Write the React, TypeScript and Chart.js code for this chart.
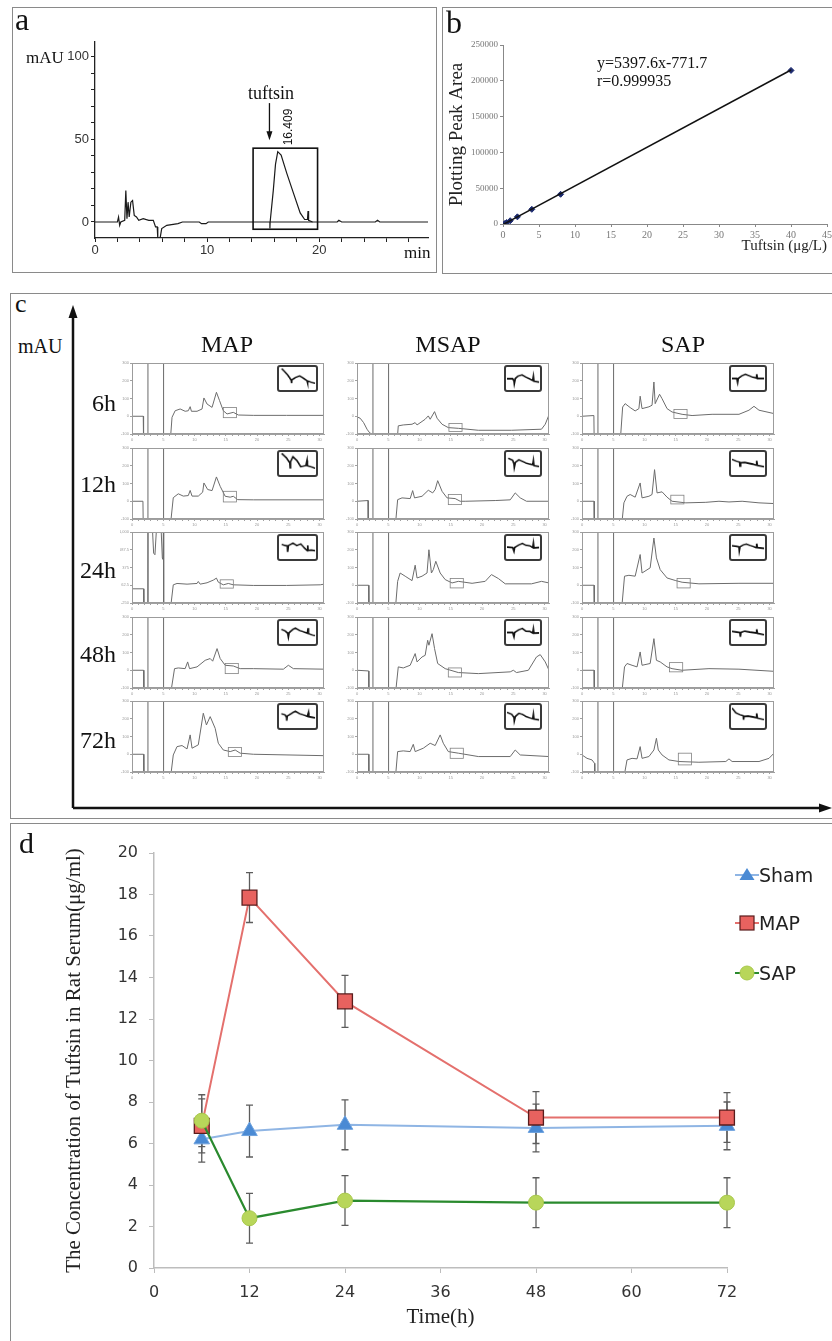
import React, { useEffect, useRef } from "react";
import { Chart, registerables } from "chart.js";

Chart.register(...registerables);

const SERIF = "'Liberation Serif', 'Times New Roman', serif";
const SANS = "'Liberation Sans', Arial, sans-serif";
const WIDE = "'DejaVu Sans', Verdana, sans-serif";

/* ---------------- panel a : standard chromatogram ---------------- */
const aTrace = [
  [0, 0], [2.0, 0], [2.1, 3], [2.2, -2], [2.3, 0], [2.65, 1], [2.75, 19], [2.85, 2], [2.95, 12], [3.05, 3],
  [3.2, 12], [3.35, 13], [3.5, 4], [3.7, 3], [3.9, 1], [4.3, 2], [4.8, 1], [5.2, 1], [5.4, -3], [5.55, -3],
  [5.6, -10], [5.8, -10], [5.95, -4], [6.4, -2], [7.4, -1], [7.8, 0], [9.3, 0], [9.5, -1], [9.9, -1],
  [10.1, 0], [15.6, 0], [15.6, -4], [15.62, 0], [15.9, 19], [16.1, 35], [16.3, 42.6], [16.6, 40.5],
  [17.1, 29.6], [17.7, 17.5], [18.3, 5.5], [18.7, 1.5], [18.95, 1.5], [19.0, 6.6], [19.05, 1], [19.4, 0],
  [21.6, 0], [21.75, 1], [22.0, 0], [25.0, 0], [25.2, 1], [25.4, 0], [29.7, 0],
];
const aPeakBaseline = [[15.6, 0], [19.4, 0]];
const aXTicks = [0, 2, 4, 6, 8, 10, 12, 14, 16, 18, 20, 22, 24, 26, 28];
const aYTicks = [0, 10, 20, 30, 40, 50, 60, 70, 80, 90, 100];
const aXRange = [0, 29.7];
const aYRange = [-9.7, 109];
const aWindowT = [14.1, 19.85];
const aWindowV = [-4.4, 44.7];
const aArrowT = 15.56;
const aArrowV = [72, 49.5];

/* ---------------- panel b : calibration ---------------- */
const bConc = [0.25, 0.5, 1, 2, 4, 8, 40];
const bArea = [600, 2000, 4600, 10000, 20500, 41500, 214500];
const bFitX = [0, 40];
const bFitY = [-772, 215132];
const bXTicks = [0, 5, 10, 15, 20, 25, 30, 35, 40, 45];
const bYTicks = [0, 50000, 100000, 150000, 200000, 250000];

/* ---------------- panel c : serum chromatograms ---------------- */
const cColLabels = ["MAP", "MSAP", "SAP"];
const cRowLabels = ["6h", "12h", "24h", "48h", "72h"];
const cXTicks = [0, 1, 2, 3, 4, 5, 6, 7, 8, 9, 10, 11, 12, 13, 14, 15, 16, 17, 18, 19, 20, 21, 22, 23, 24, 25, 26, 27, 28, 29, 30];
const cTimeMax = 30.7;
const cSolvent = [2.55, 5.05];
const cBoxWidth = 2.1;

const map6h = [[0, 0], [1.8, 0], [1.85, -150], [6.1, -150], [6.4, -6], [6.9, 31], [7.7, 41], [8.5, 28], [9.0, 31], [9.3, 54], [9.5, 28], [10.4, 28], [11.2, 41], [11.5, 103], [12.0, 69], [12.8, 50], [13.5, 135], [14.0, 88], [14.6, 31], [15.2, 13], [16.2, 22], [17.0, 7], [19.4, 5], [24.7, 5], [30.7, 5]];
const map12h = [[0, 0], [1.75, 0], [1.8, -150], [6.1, -150], [6.6, 20], [7.4, 42], [8.2, 29], [9.0, 32], [9.3, 61], [9.6, 29], [10.6, 29], [11.3, 51], [11.5, 103], [12.1, 66], [12.8, 60], [13.5, 137], [14.1, 84], [14.9, 28], [15.7, 23], [16.2, 28], [16.9, 9], [19.4, 8], [30.7, 8]];
const map24h = [[0, 0], [1.85, 0], [1.9, -400], [2.55, -400], [2.56, 1200], [3.2, 1200], [3.46, 628], [3.67, 600], [3.99, 1200], [4.6, 1200], [4.85, 540], [4.95, 520], [5.04, 1200], [5.06, -400], [6.1, -400], [6.6, 70], [7.2, 94], [8.8, 82], [10.4, 94], [10.6, 129], [10.9, 82], [12.0, 106], [13.0, 153], [13.5, 188], [13.8, 117], [14.6, 70], [15.4, 94], [16.2, 70], [19.4, 59], [24.7, 59], [30.1, 70], [30.7, 82]];
const map48h = [[0, 0], [1.85, 0], [1.9, -150], [6.1, -150], [6.8, 9], [7.4, 13], [8.5, 9], [8.9, 47], [9.2, 9], [10.4, 19], [11.7, 56], [12.5, 66], [12.9, 51], [13.6, 122], [14.1, 66], [14.9, 28], [16.2, 24], [17.3, 9], [19.4, 9], [24.2, 6], [25.0, 28], [25.8, 9], [30.7, 6]];
const map72h = [[0, 0], [1.85, 0], [1.9, -150], [6.1, -150], [6.6, -4], [7.2, 43], [8.0, 49], [8.8, 30], [9.3, 109], [9.6, 34], [10.6, 53], [11.4, 231], [11.9, 165], [12.5, 212], [13.3, 146], [13.8, 62], [14.6, 24], [15.7, 15], [16.5, 24], [17.3, 6], [19.4, 0], [30.7, -8]];

const msap6h = [[0, -4], [0.5, -11], [1.06, -36], [1.6, -73], [2.0, -92], [2.05, -150], [6.4, -150], [6.6, -54], [7.4, -49], [8.8, -45], [9.3, -36], [9.6, -49], [10.9, -17], [11.4, 2], [11.7, -17], [12.4, 26], [12.8, -11], [13.6, -45], [14.6, -64], [16.2, -68], [19.4, -79], [24.7, -79], [29.5, -73], [30.1, -45], [30.7, 8]];
const msap12h = [[0, 0], [1.76, 4], [1.8, -150], [6.1, -150], [6.5, 9], [7.2, 19], [8.5, 15], [8.9, 60], [9.2, 19], [10.4, 28], [11.4, 62], [12.1, 47], [12.5, 66], [12.9, 116], [13.6, 56], [14.4, 19], [15.7, 15], [16.5, 0], [17.3, 0], [22.1, 4], [24.5, 8], [25.3, 47], [26.1, 19], [27.1, 0], [30.7, 0]];
const msap24h = [[0, 0], [1.86, 0], [1.9, -150], [6.1, -150], [6.5, 22], [6.9, 69], [7.7, 51], [8.8, 26], [9.3, 113], [9.6, 41], [10.4, 51], [11.2, 69], [11.5, 200], [11.9, 69], [12.2, 88], [12.6, 135], [13.3, 69], [14.1, 32], [15.2, 13], [16.2, 22], [18.4, 11], [20.5, 22], [21.5, 60], [22.6, 38], [23.7, 8], [27.9, 8], [29.5, 22], [30.7, 13]];
const msap48h = [[0, 0], [1.86, -4], [1.9, -150], [6.1, -150], [6.6, 19], [7.4, 13], [8.5, 28], [9.3, 94], [9.6, 47], [10.4, 75], [10.9, 84], [11.3, 169], [11.5, 141], [12.0, 206], [12.4, 122], [12.9, 38], [14.1, 9], [16.2, -13], [19.4, -19], [24.5, -9], [25.0, 0], [25.5, -13], [27.4, 0], [28.7, 75], [29.3, 88], [30.1, 47], [30.7, 0]];
const msap72h = [[0, 0], [1.86, 0], [1.9, -150], [6.1, -150], [6.5, 15], [7.4, 19], [8.5, 15], [9.0, 56], [9.3, 15], [10.6, 34], [11.7, 62], [12.5, 49], [13.3, 109], [13.8, 62], [14.6, 15], [16.2, 6], [19.4, -13], [24.5, -13], [25.3, 24], [26.1, -4], [30.7, -13]];

const sap6h = [[0, 0], [1.9, 4], [1.95, -150], [6.1, -150], [6.5, 52], [6.9, 71], [7.7, 49], [8.5, 30], [9.1, 43], [9.3, 113], [9.6, 43], [10.7, 53], [11.2, 62], [11.5, 193], [11.7, 71], [12.4, 124], [12.8, 99], [13.6, 43], [14.4, 24], [16.0, 11], [17.6, 4], [20.8, 11], [25.1, 11], [26.7, 34], [27.5, 56], [28.3, 34], [30.7, 15]];
const sap12h = [[0, 0], [1.92, 0], [1.97, -150], [6.3, -150], [6.7, -9], [7.2, 28], [7.7, 38], [8.5, 23], [9.3, 103], [9.6, 19], [10.7, 28], [11.2, 38], [11.6, 178], [12.0, 47], [12.8, 53], [13.6, 23], [14.4, 0], [16.6, -9], [19.8, -6], [21.9, 0], [23.5, -4], [25.6, 0], [28.3, -9], [30.7, -13]];
const sap24h = [[0, 0], [1.92, 0], [1.97, -150], [6.3, -150], [6.8, 51], [7.5, 56], [8.5, 51], [9.3, 173], [9.6, 69], [10.9, 98], [11.5, 266], [11.9, 154], [12.5, 88], [13.6, 41], [15.0, 26], [16.0, 17], [18.7, 8], [25.1, 11], [30.7, 11]];
const sap48h = [[0, 0], [1.92, 0], [1.97, -150], [6.3, -150], [6.8, 19], [7.2, 38], [8.0, 28], [8.8, 19], [9.3, 103], [9.6, 28], [10.9, 38], [11.5, 178], [11.9, 56], [12.5, 47], [13.6, 19], [14.4, 9], [16.0, 0], [20.3, 9], [25.1, 6], [30.7, -6]];
const sap72h = [[0, -4], [0.8, -23], [1.6, -32], [2.0, -51], [2.05, -150], [6.6, -150], [7.2, -32], [8.0, -23], [8.8, -26], [9.3, 43], [9.6, -23], [10.7, -13], [11.5, 24], [11.9, 90], [12.2, 24], [12.8, -4], [13.9, -32], [15.5, -41], [18.7, -45], [23.0, -41], [23.5, -26], [24.0, -41], [28.3, -41], [29.9, -23], [30.7, 6]];

const cTraces = [
  [map6h, map12h, map24h, map48h, map72h],
  [msap6h, msap12h, msap24h, msap48h, msap72h],
  [sap6h, sap12h, sap24h, sap48h, sap72h],
];
const cYMin = [[-100, -100, -250, -100, -100], [-100, -100, -100, -100, -100], [-100, -100, -100, -100, -100]];
const cYMax = [[300, 300, 1000, 300, 300], [300, 300, 300, 300, 300], [300, 300, 300, 300, 300]];
const cBoxStart = [[14.6, 14.6, 14.1, 14.9, 15.4], [14.7, 14.6, 14.9, 14.6, 14.9], [14.7, 14.2, 15.2, 14.0, 15.4]];
const cBoxLow = [[-8, -4, 12, -19, -13], [-86, -19, -15, -38, -23], [-13, -15, -15, -9, -60]];
const cBoxHigh = [[49, 56, 158, 38, 38], [-41, 38, 38, 13, 34], [38, 34, 38, 43, 6]];

const mapInsets = [
  [[0.5, 9.7], [2.2, 6.7], [3.2, 4.2], [3.3, 2.8], [3.4, 4.4], [4.4, 5.4], [5.6, 6.2], [6.7, 5.1], [7.7, 4.0], [7.8, 3.0], [7.9, 3.9], [8.9, 3.2], [10, 2.7]],
  [[0.5, 9.8], [1.9, 7.6], [2.8, 5.3], [2.9, 3.0], [3.0, 5.8], [3.7, 8.2], [4.8, 6.5], [5.9, 3.5], [7.4, 4.1], [7.7, 6.5], [7.8, 4.0], [9.3, 3.2], [10, 2.7]],
  [[0.5, 6.5], [1.5, 5.9], [2.1, 5.8], [2.2, 2.9], [2.4, 5.9], [3.7, 7.1], [4.8, 5.9], [5.9, 6.7], [7.0, 4.7], [7.8, 3.5], [7.9, 6.0], [8.0, 3.6], [8.9, 3.8], [10, 3.5]],
  [[0.4, 6.5], [1.5, 5.7], [2.2, 4.7], [2.4, 2.9], [2.6, 4.9], [3.7, 6.5], [4.4, 7.1], [5.6, 5.9], [6.7, 5.3], [7.8, 4.7], [8.0, 7.1], [8.1, 4.5], [9.3, 3.8], [10, 3.5]],
  [[0.4, 6.3], [1.5, 5.7], [1.9, 4.6], [1.95, 3.0], [2.1, 5.2], [2.6, 5.7], [3.7, 6.9], [4.4, 7.5], [5.6, 6.3], [6.7, 5.7], [7.8, 5.1], [8.1, 6.9], [8.2, 4.9], [9.3, 4.6], [10, 4.4]],
];
const msapInsets = [
  [[0, 4.9], [1.8, 4.9], [2.2, 3.9], [2.3, 2.6], [2.6, 5.0], [3.4, 6.1], [4.7, 6.7], [5.9, 5.6], [7.1, 4.8], [8.0, 4.1], [8.2, 6.1], [8.4, 3.7], [10, 3.3]],
  [[0.4, 7.5], [1.8, 6.5], [2.2, 4.8], [2.3, 3.2], [2.6, 5.5], [3.7, 6.8], [4.8, 6.0], [5.9, 5.2], [7.1, 4.7], [8.0, 4.4], [8.2, 6.5], [8.4, 4.0], [10, 3.6]],
  [[0, 5.2], [1.8, 5.0], [2.2, 3.2], [2.4, 5.0], [3.7, 6.2], [4.8, 6.9], [5.9, 6.0], [7.1, 5.8], [8.0, 5.0], [8.2, 7.2], [8.4, 4.8], [10, 5.0]],
  [[0, 5.0], [1.8, 5.0], [2.2, 3.0], [2.4, 5.0], [3.7, 6.3], [4.8, 6.9], [5.9, 5.6], [7.1, 5.5], [8.0, 4.8], [8.2, 6.8], [8.4, 4.7], [10, 4.8]],
  [[0, 7.0], [1.5, 6.0], [2.2, 4.6], [2.3, 3.0], [2.6, 5.0], [3.7, 6.5], [4.8, 6.0], [5.9, 5.0], [7.1, 4.4], [8.0, 4.0], [8.2, 6.2], [8.4, 3.8], [10, 3.4]],
];
const sapInsets = [
  [[0, 5.0], [1.5, 5.0], [1.8, 3.0], [2.0, 5.0], [3.0, 6.2], [4.2, 7.0], [5.5, 6.2], [6.5, 5.5], [7.5, 5.3], [7.7, 7.0], [7.9, 5.0], [10, 5.0]],
  [[0, 7.0], [1.5, 6.0], [2.4, 5.6], [2.5, 3.8], [2.7, 5.4], [4.0, 5.5], [5.5, 5.0], [6.5, 4.7], [7.5, 4.3], [7.7, 6.3], [7.9, 4.1], [10, 3.5]],
  [[0, 5.8], [1.5, 5.5], [2.2, 5.3], [2.3, 3.5], [2.5, 5.3], [3.5, 6.2], [4.5, 6.6], [5.5, 6.0], [6.5, 5.5], [7.5, 5.0], [7.7, 6.8], [7.9, 4.9], [10, 4.6]],
  [[0, 5.5], [1.5, 5.2], [2.5, 5.0], [2.6, 3.0], [2.8, 5.0], [4.0, 5.6], [5.5, 5.2], [6.5, 5.0], [7.5, 4.8], [7.7, 6.5], [7.9, 4.6], [10, 4.0]],
  [[0, 9.0], [1.2, 6.8], [2.5, 5.8], [3.5, 5.3], [3.6, 3.5], [3.8, 5.1], [5.0, 5.2], [6.5, 4.8], [7.5, 4.5], [7.7, 6.5], [7.9, 4.3], [10, 3.5]],
];
const cInsets = [mapInsets, msapInsets, sapInsets];

/* ---------------- panel d : serum concentration ---------------- */
const dSeriesNames = ["Sham", "MAP", "SAP"];
const dTimes = [6, 12, 24, 48, 72];
const dSham = [6.2, 6.6, 6.9, 6.75, 6.85];
const dShamErr = [1.1, 1.25, 1.2, 1.15, 1.15];
const dMap = [6.85, 17.85, 12.85, 7.25, 7.25];
const dMapErr = [1.3, 1.2, 1.25, 1.25, 1.2];
const dSap = [7.1, 2.4, 3.25, 3.15, 3.15];
const dSapErr = [1.25, 1.2, 1.2, 1.2, 1.2];
const dXTicks = [0, 12, 24, 36, 48, 60, 72];
const dYTicks = [0, 2, 4, 6, 8, 10, 12, 14, 16, 18, 20];

/* ---------------- layout constants ---------------- */
const C_COL_LEFT = [132, 357, 582];
const C_PLOT_W = 192;
const C_ROW_TOP = [363, 448, 532, 617, 701];
const C_PLOT_H = 71;
const C_INSET_LEFT = [277, 504, 729];
const C_INSET_W = [45, 42, 42];
const C_ROW_LABEL_Y = [403, 484, 570, 654, 740];
const C_COL_LABEL_X = [227, 448, 683];

const noPlugins = { legend: { display: false }, tooltip: { enabled: false } };

function fixX(h) {
  return (s) => {
    s.height = h;
    s.paddingLeft = 0;
    s.paddingRight = 0;
  };
}
function fixY(w) {
  return (s) => {
    s.width = w;
    s.paddingTop = 0;
    s.paddingBottom = 0;
  };
}
function setTicks(values) {
  return (s) => {
    s.ticks = values.map((v) => ({ value: v }));
  };
}

function ChartCanvas({ x, y, w, h, make, style }) {
  const ref = useRef(null);
  useEffect(() => {
    const chart = new Chart(ref.current, make());
    return () => chart.destroy();
  }, []);
  return (
    <canvas
      ref={ref}
      width={w}
      height={h}
      style={{ position: "absolute", left: x, top: y, width: w, height: h, ...(style || {}) }}
    />
  );
}

function Txt({ x, y, size, family, children, align, color, weight }) {
  const a = align || "left";
  const tx = a === "center" ? "-50%" : a === "right" ? "-100%" : "0";
  return (
    <div
      style={{
        position: "absolute",
        left: x,
        top: y - size / 2,
        fontSize: size,
        lineHeight: `${size}px`,
        fontFamily: family,
        color: color || "#111",
        fontWeight: weight || "normal",
        whiteSpace: "nowrap",
        transform: `translateX(${tx})`,
      }}
    >
      {children}
    </div>
  );
}

/* ---------------- chart configs ---------------- */
function configA() {
  const deco = {
    id: "aDeco",
    afterDatasetsDraw(chart) {
      const { ctx, scales } = chart;
      const xs = scales.x;
      const ys = scales.y;
      ctx.save();
      ctx.strokeStyle = "#111";
      ctx.lineWidth = 1.6;
      const x0 = xs.getPixelForValue(aWindowT[0]);
      const x1 = xs.getPixelForValue(aWindowT[1]);
      const y0 = ys.getPixelForValue(aWindowV[1]);
      const y1 = ys.getPixelForValue(aWindowV[0]);
      ctx.strokeRect(x0, y0, x1 - x0, y1 - y0);
      const ax = xs.getPixelForValue(aArrowT);
      const ay0 = ys.getPixelForValue(aArrowV[0]);
      const ay1 = ys.getPixelForValue(aArrowV[1]);
      ctx.lineWidth = 1.3;
      ctx.beginPath();
      ctx.moveTo(ax, ay0);
      ctx.lineTo(ax, ay1 - 6);
      ctx.stroke();
      ctx.fillStyle = "#111";
      ctx.beginPath();
      ctx.moveTo(ax, ay1);
      ctx.lineTo(ax - 3, ay1 - 9);
      ctx.lineTo(ax + 3, ay1 - 9);
      ctx.closePath();
      ctx.fill();
      ctx.restore();
    },
  };
  return {
    type: "line",
    data: {
      datasets: [
        { data: aTrace, borderColor: "#1a1a1a", borderWidth: 1.2, pointRadius: 0, tension: 0 },
        { data: aPeakBaseline, borderColor: "#1a1a1a", borderWidth: 1.2, pointRadius: 0 },
      ],
    },
    options: {
      animation: false,
      responsive: false,
      events: [],
      layout: { padding: { top: 35, right: 9, left: 0, bottom: 0 } },
      plugins: noPlugins,
      scales: {
        x: {
          type: "linear",
          min: aXRange[0],
          max: aXRange[1],
          afterBuildTicks: setTicks(aXTicks),
          afterFit: fixX(35),
          ticks: {
            autoSkip: false,
            maxRotation: 0,
            padding: 1,
            color: "#333",
            font: { family: SANS, size: 13 },
            callback: (v) => (v % 10 === 0 ? String(v) : ""),
          },
          grid: { drawOnChartArea: false, tickLength: 4, color: "#222" },
          border: { color: "#222", width: 1.3 },
        },
        y: {
          min: aYRange[0],
          max: aYRange[1],
          afterBuildTicks: setTicks(aYTicks),
          afterFit: fixY(83),
          ticks: {
            autoSkip: false,
            padding: 2,
            color: "#333",
            font: { family: SANS, size: 13 },
            callback: (v) => (v % 50 === 0 ? String(v) : ""),
          },
          grid: { drawOnChartArea: false, tickLength: 4, color: "#222" },
          border: { color: "#222", width: 1.3 },
        },
      },
    },
    plugins: [deco],
  };
}

function configB() {
  return {
    type: "line",
    data: {
      datasets: [
        {
          data: bFitX.map((v, i) => ({ x: v, y: bFitY[i] })),
          borderColor: "#111",
          borderWidth: 1.5,
          pointRadius: 0,
        },
        {
          data: bConc.map((v, i) => ({ x: v, y: bArea[i] })),
          showLine: false,
          pointStyle: "rectRot",
          pointRadius: 3,
          pointBackgroundColor: "#1c2a6e",
          pointBorderColor: "#1c2a6e",
        },
      ],
    },
    options: {
      animation: false,
      responsive: false,
      events: [],
      layout: { padding: { top: 38, right: 1, left: 0, bottom: 14 } },
      plugins: noPlugins,
      scales: {
        x: {
          type: "linear",
          min: 0,
          max: 45,
          afterBuildTicks: setTicks(bXTicks),
          afterFit: fixX(35),
          ticks: { autoSkip: false, maxRotation: 0, padding: 2, color: "#777", font: { family: SERIF, size: 10 } },
          grid: { drawOnChartArea: false, tickLength: 3, color: "#888" },
          border: { color: "#888", width: 1 },
          title: {
            display: true,
            text: "Tuftsin (μg/L)",
            align: "end",
            color: "#222",
            font: { family: SERIF, size: 15 },
          },
        },
        y: {
          min: 0,
          max: 250000,
          afterBuildTicks: setTicks(bYTicks),
          afterFit: fixY(61),
          ticks: {
            autoSkip: false,
            padding: 2,
            color: "#777",
            font: { family: SERIF, size: 9 },
            callback: (v) => String(v),
          },
          grid: { drawOnChartArea: false, tickLength: 3, color: "#888" },
          border: { color: "#888", width: 1 },
          title: {
            display: true,
            text: "Plotting Peak Area",
            color: "#222",
            font: { family: SERIF, size: 19 },
          },
        },
      },
    },
  };
}

function configSmall(col, row) {
  const yMin = cYMin[col][row];
  const yMax = cYMax[col][row];
  const step = (yMax - yMin) / 4;
  const yTicks = [0, 1, 2, 3, 4].map((i) => yMin + i * step);
  const bt = cBoxStart[col][row];
  const frame = {
    id: "frame",
    afterDatasetsDraw(chart) {
      const { ctx, chartArea: a, scales } = chart;
      ctx.save();
      ctx.strokeStyle = "#9c9c9c";
      ctx.lineWidth = 1;
      ctx.strokeRect(a.left + 0.5, a.top + 0.5, a.width - 1, a.height - 1);
      const x0 = scales.x.getPixelForValue(bt);
      const x1 = scales.x.getPixelForValue(bt + cBoxWidth);
      const y0 = scales.y.getPixelForValue(cBoxHigh[col][row]);
      const y1 = scales.y.getPixelForValue(cBoxLow[col][row]);
      ctx.strokeStyle = "#808080";
      ctx.lineWidth = 0.8;
      ctx.strokeRect(x0, y0, x1 - x0, y1 - y0);
      ctx.restore();
    },
  };
  const vline = (t) => ({
    data: [[t, yMin], [t, yMax]],
    borderColor: "#6a6a6a",
    borderWidth: 1,
    pointRadius: 0,
  });
  return {
    type: "line",
    data: {
      datasets: [
        { data: cTraces[col][row], borderColor: "#6c6c6c", borderWidth: 1, pointRadius: 0, tension: 0 },
        vline(cSolvent[0]),
        vline(cSolvent[1]),
      ],
    },
    options: {
      animation: false,
      responsive: false,
      events: [],
      layout: { padding: { top: 2, right: 2, left: 0, bottom: 0 } },
      plugins: noPlugins,
      scales: {
        x: {
          type: "linear",
          min: 0,
          max: cTimeMax,
          afterBuildTicks: setTicks(cXTicks),
          afterFit: fixX(8),
          ticks: {
            autoSkip: false,
            maxRotation: 0,
            padding: 1,
            color: "#999",
            font: { family: SANS, size: 4 },
            callback: (v) => (v % 5 === 0 ? String(v) : ""),
          },
          grid: { drawOnChartArea: false, tickLength: 2, color: "#a0a0a0" },
          border: { color: "#a0a0a0" },
        },
        y: {
          min: yMin,
          max: yMax,
          afterBuildTicks: setTicks(yTicks),
          afterFit: fixY(12),
          ticks: { autoSkip: false, padding: 1, color: "#999", font: { family: SANS, size: 4 } },
          grid: { drawOnChartArea: false, tickLength: 2, color: "#a0a0a0" },
          border: { color: "#a0a0a0" },
        },
      },
    },
    plugins: [frame],
  };
}

function configInset(col, row) {
  return {
    type: "line",
    data: {
      datasets: [{ data: cInsets[col][row], borderColor: "#111", borderWidth: 1.8, pointRadius: 0 }],
    },
    options: {
      animation: false,
      responsive: false,
      events: [],
      layout: { padding: 1 },
      plugins: noPlugins,
      scales: {
        x: { type: "linear", min: 0, max: 10, display: false },
        y: { min: 0, max: 10, display: false },
      },
    },
  };
}

function configD() {
  const errorBars = {
    id: "errorBars",
    beforeDatasetsDraw(chart) {
      const { ctx, scales } = chart;
      ctx.save();
      ctx.strokeStyle = "#5c5c5c";
      ctx.lineWidth = 1.3;
      chart.data.datasets.forEach((ds) => {
        ds.data.forEach((p, j) => {
          const e = ds.errors[j];
          const px = scales.x.getPixelForValue(p.x);
          const top = scales.y.getPixelForValue(p.y + e);
          const bot = scales.y.getPixelForValue(p.y - e);
          ctx.beginPath();
          ctx.moveTo(px, top);
          ctx.lineTo(px, bot);
          ctx.moveTo(px - 3.5, top);
          ctx.lineTo(px + 3.5, top);
          ctx.moveTo(px - 3.5, bot);
          ctx.lineTo(px + 3.5, bot);
          ctx.stroke();
        });
      });
      ctx.restore();
    },
  };
  const pts = (vals) => dTimes.map((t, i) => ({ x: t, y: vals[i] }));
  return {
    type: "line",
    data: {
      datasets: [
        {
          label: dSeriesNames[0],
          data: pts(dSham),
          errors: dShamErr,
          borderColor: "#8fb5e4",
          borderWidth: 2,
          pointStyle: "triangle",
          pointRadius: 9,
          pointBackgroundColor: "#4a8ad4",
          pointBorderColor: "#6ea2de",
          pointBorderWidth: 1,
          clip: false,
          order: 3,
        },
        {
          label: dSeriesNames[1],
          data: pts(dMap),
          errors: dMapErr,
          borderColor: "#e4706d",
          borderWidth: 2,
          pointStyle: "rect",
          pointRadius: 10.5,
          pointBackgroundColor: "#e8625f",
          pointBorderColor: "#5a1c1c",
          pointBorderWidth: 1.3,
          clip: false,
          order: 2,
        },
        {
          label: dSeriesNames[2],
          data: pts(dSap),
          errors: dSapErr,
          borderColor: "#2a8a2e",
          borderWidth: 2.2,
          pointStyle: "circle",
          pointRadius: 7.5,
          pointBackgroundColor: "#b8d65a",
          pointBorderColor: "#a8c84c",
          pointBorderWidth: 1,
          clip: false,
          order: 1,
        },
      ],
    },
    options: {
      animation: false,
      responsive: false,
      events: [],
      layout: { padding: { top: 30, right: 105, left: 48, bottom: 7 } },
      plugins: noPlugins,
      scales: {
        x: {
          type: "linear",
          min: 0,
          max: 72,
          afterBuildTicks: setTicks(dXTicks),
          afterFit: fixX(66),
          ticks: { autoSkip: false, maxRotation: 0, padding: 10, color: "#333", font: { family: WIDE, size: 16 } },
          grid: { drawOnChartArea: false, tickLength: 5, color: "#bdbdbd" },
          border: { color: "#bdbdbd", width: 1.5 },
          title: { display: true, text: "Time(h)", color: "#222", font: { family: SERIF, size: 21 } },
        },
        y: {
          min: 0,
          max: 20,
          afterBuildTicks: setTicks(dYTicks),
          afterFit: fixY(96),
          ticks: { autoSkip: false, padding: 11, color: "#333", font: { family: WIDE, size: 16 } },
          grid: { drawOnChartArea: false, tickLength: 5, color: "#bdbdbd" },
          border: { color: "#bdbdbd", width: 1.5 },
          title: {
            display: true,
            text: "The Concentration of Tuftsin in Rat Serum(μg/ml)",
            color: "#222",
            font: { family: SERIF, size: 21 },
          },
        },
      },
    },
    plugins: [errorBars],
  };
}

const frameStyle = { position: "absolute", border: "1.5px solid #8a8a8a", boxSizing: "border-box" };

function LegendItem({ y, name, idx }) {
  const colors = ["#8fb5e4", "#e4706d", "#2a8a2e"];
  let marker;
  if (idx === 0) marker = <polygon points="12,3 19.5,15 4.5,15" fill="#4a8ad4" />;
  else if (idx === 1) marker = <rect x={5} y={3} width={14} height={14} fill="#e8625f" stroke="#5a1c1c" strokeWidth={1.2} />;
  else marker = <circle cx={12} cy={10} r={7} fill="#b8d65a" stroke="#a8c84c" />;
  return (
    <div style={{ position: "absolute", left: 735, top: y - 11, height: 22, display: "flex", alignItems: "center" }}>
      <svg width={24} height={20} style={{ display: "block" }}>
        <line x1={0} y1={10} x2={24} y2={10} stroke={colors[idx]} strokeWidth={2} />
        {marker}
      </svg>
      <span style={{ fontFamily: WIDE, fontSize: 19, color: "#222", lineHeight: "22px" }}>{name}</span>
    </div>
  );
}

export default function App() {
  const small = [];
  for (let c = 0; c < 3; c++) {
    for (let r = 0; r < 5; r++) {
      small.push(
        <ChartCanvas
          key={`s${c}${r}`}
          x={C_COL_LEFT[c] - 12}
          y={C_ROW_TOP[r] - 2}
          w={C_PLOT_W + 14}
          h={C_PLOT_H + 10}
          make={() => configSmall(c, r)}
        />
      );
      small.push(
        <ChartCanvas
          key={`i${c}${r}`}
          x={C_INSET_LEFT[c]}
          y={C_ROW_TOP[r] + 2}
          w={C_INSET_W[c] - 4}
          h={27}
          make={() => configInset(c, r)}
          style={{ border: "2px solid #3a3a3a", borderRadius: 3, background: "#fff" }}
        />
      );
    }
  }
  return (
    <div style={{ position: "absolute", left: 0, top: 0, width: 832, height: 1341, overflow: "hidden", background: "#fff" }}>
      {/* frames */}
      <div style={{ ...frameStyle, left: 12, top: 7, width: 425, height: 266 }} />
      <div style={{ ...frameStyle, left: 442, top: 7, width: 400, height: 267 }} />
      <div style={{ ...frameStyle, left: 10, top: 293, width: 840, height: 526 }} />
      <div style={{ ...frameStyle, left: 10, top: 823, width: 840, height: 540 }} />

      {/* panel a */}
      <ChartCanvas x={12} y={7} w={425} h={266} make={configA} />
      <Txt x={15} y={19} size={32} family={SERIF}>a</Txt>
      <Txt x={26} y={57} size={17} family={SERIF}>mAU</Txt>
      <Txt x={404} y={252} size={17} family={SERIF}>min</Txt>
      <Txt x={271} y={93} size={18} family={SERIF} align="center">tuftsin</Txt>
      <div
        style={{
          position: "absolute",
          left: 288,
          top: 127,
          fontFamily: SANS,
          fontSize: 12,
          lineHeight: "12px",
          color: "#111",
          whiteSpace: "nowrap",
          transform: "translate(-50%, -50%) rotate(-90deg)",
        }}
      >
        16.409
      </div>

      {/* panel b */}
      <ChartCanvas x={442} y={7} w={390} h={266} make={configB} />
      <Txt x={446} y={22} size={32} family={SERIF}>b</Txt>
      <Txt x={597} y={63} size={16} family={SERIF}>y=5397.6x-771.7</Txt>
      <Txt x={597} y={81} size={16} family={SERIF}>r=0.999935</Txt>

      {/* panel c */}
      <Txt x={15} y={304} size={26} family={SERIF}>c</Txt>
      <Txt x={18} y={346} size={20} family={SERIF}>mAU</Txt>
      <svg width={832} height={830} style={{ position: "absolute", left: 0, top: 0 }}>
        <line x1={73} y1={808} x2={73} y2={316} stroke="#111" strokeWidth={2.5} />
        <polygon points="73,305 68.5,318 77.5,318" fill="#111" />
        <line x1={73} y1={808} x2={820} y2={808} stroke="#111" strokeWidth={2.5} />
        <polygon points="832,808 819,803.5 819,812.5" fill="#111" />
      </svg>
      {cColLabels.map((s, i) => (
        <Txt key={s} x={C_COL_LABEL_X[i]} y={344} size={24} family={SERIF} align="center">
          {s}
        </Txt>
      ))}
      {cRowLabels.map((s, i) => (
        <Txt key={s} x={116} y={C_ROW_LABEL_Y[i]} size={24} family={SERIF} align="right">
          {s}
        </Txt>
      ))}
      {small}

      {/* panel d */}
      <ChartCanvas x={10} y={823} w={822} h={518} make={configD} />
      <Txt x={19} y={843} size={30} family={SERIF}>d</Txt>
      {dSeriesNames.map((n, i) => (
        <LegendItem key={n} y={[875, 923, 973][i]} name={n} idx={i} />
      ))}
    </div>
  );
}
